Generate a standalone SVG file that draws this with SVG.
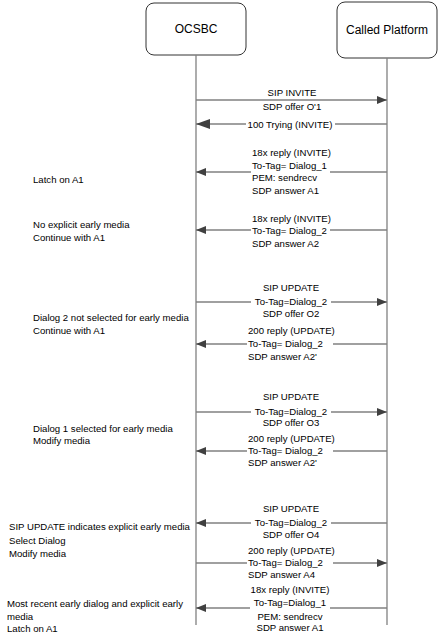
<svg xmlns="http://www.w3.org/2000/svg" width="438" height="642" viewBox="0 0 438 642">
<style>
text{font-family:"Liberation Sans",Arial,sans-serif;font-size:9.6px;fill:#000}
.box{fill:#fff;stroke:#333;stroke-width:1}
.life{stroke:#808080;stroke-width:1.3;fill:none}
.msg{stroke:#808080;stroke-width:1.3;fill:none}
.gap{fill:#fff}
.lbl{font-size:12px}
.c{text-anchor:middle}
</style>
<defs>
<marker id="ah" markerWidth="10" markerHeight="8" refX="10" refY="4" orient="auto" markerUnits="userSpaceOnUse">
<path d="M0,0 L10,4 L0,8 Z" fill="#404040"/>
</marker>
<marker id="ahb" markerWidth="14" markerHeight="10" refX="14" refY="5" orient="auto" markerUnits="userSpaceOnUse">
<path d="M0,0 L14,5 L0,10 Z" fill="#404040"/>
</marker>
</defs>
<rect width="438" height="642" fill="#fff"/>
<g id="ocsbc">
<rect class="box" x="146" y="3" width="100" height="52" rx="8"/>
<text class="lbl c" x="196" y="33">OCSBC</text>
</g>
<g id="called">
<rect class="box" x="337" y="2" width="100" height="56" rx="8"/>
<text class="lbl c" x="387" y="34">Called Platform</text>
</g>
<g id="lifelines">
<line class="life" x1="196" y1="55" x2="196" y2="625"/>
<line class="life" x1="387" y1="58" x2="387" y2="625"/>
</g>
<g id="connectors">
<line class="msg" x1="196" y1="100" x2="387" y2="100" marker-end="url(#ah)"/>
<line class="msg" x1="387" y1="124" x2="196" y2="124" marker-end="url(#ahb)"/>
<line class="msg" x1="387" y1="172" x2="196" y2="172" marker-end="url(#ah)"/>
<line class="msg" x1="387" y1="230" x2="196" y2="230" marker-end="url(#ah)"/>
<line class="msg" x1="196" y1="302" x2="387" y2="302" marker-end="url(#ah)"/>
<line class="msg" x1="387" y1="344" x2="196" y2="344" marker-end="url(#ah)"/>
<line class="msg" x1="196" y1="412" x2="387" y2="412" marker-end="url(#ah)"/>
<line class="msg" x1="387" y1="451" x2="196" y2="451" marker-end="url(#ah)"/>
<line class="msg" x1="387" y1="523" x2="196" y2="523" marker-end="url(#ah)"/>
<line class="msg" x1="196" y1="563" x2="387" y2="563" marker-end="url(#ah)"/>
<line class="msg" x1="387" y1="608" x2="196" y2="608" marker-end="url(#ah)"/>
</g>
<g id="m1">
<text class="c" x="292" y="96">SIP INVITE</text>
<text class="c" x="292" y="110">SDP offer O'1</text>
</g>
<g id="m2">
<rect class="gap" x="246" y="118" width="89" height="12"/>
<text class="c" x="290" y="127.5">100 Trying (INVITE)</text>
</g>
<g id="m3">
<rect class="gap" x="251" y="166" width="79" height="11"/>
<text x="252" y="156">18x reply (INVITE)</text>
<text x="252" y="169">To-Tag= Dialog_1</text>
<text x="252" y="181">PEM: sendrecv</text>
<text x="252" y="194">SDP answer A1</text>
</g>
<g id="m4">
<rect class="gap" x="251" y="225" width="79" height="11"/>
<text x="252" y="222">18x reply (INVITE)</text>
<text x="252" y="234">To-Tag= Dialog_2</text>
<text x="252" y="247">SDP answer A2</text>
</g>
<g id="m5">
<rect class="gap" x="251" y="297" width="80" height="11"/>
<text class="c" x="291" y="291">SIP UPDATE</text>
<text class="c" x="291" y="305">To-Tag=Dialog_2</text>
<text class="c" x="291" y="317">SDP offer O2</text>
</g>
<g id="m6">
<rect class="gap" x="247" y="338" width="86" height="11"/>
<text x="248" y="334">200 reply (UPDATE)</text>
<text x="248" y="347">To-Tag= Dialog_2</text>
<text x="248" y="360">SDP answer A2'</text>
</g>
<g id="m7">
<rect class="gap" x="251" y="407" width="80" height="11"/>
<text class="c" x="291" y="400">SIP UPDATE</text>
<text class="c" x="291" y="415">To-Tag=Dialog_2</text>
<text class="c" x="291" y="426">SDP offer O3</text>
</g>
<g id="m8">
<rect class="gap" x="247" y="445" width="86" height="11"/>
<text x="248" y="442">200 reply (UPDATE)</text>
<text x="248" y="454">To-Tag= Dialog_2</text>
<text x="248" y="466">SDP answer A2'</text>
</g>
<g id="m9">
<rect class="gap" x="251" y="518" width="80" height="11"/>
<text class="c" x="291" y="512">SIP UPDATE</text>
<text class="c" x="291" y="526">To-Tag=Dialog_2</text>
<text class="c" x="291" y="538">SDP offer O4</text>
</g>
<g id="m10">
<rect class="gap" x="247" y="557" width="86" height="11"/>
<text x="248" y="554">200 reply (UPDATE)</text>
<text x="248" y="566">To-Tag= Dialog_2</text>
<text x="248" y="578">SDP answer A4</text>
</g>
<g id="m11">
<rect class="gap" x="250" y="598" width="80" height="22"/>
<text class="c" x="290" y="593">18x reply (INVITE)</text>
<text class="c" x="290" y="606">To-Tag=Dialog_1</text>
<text class="c" x="290" y="620">PEM: sendrecv</text>
<text class="c" x="290" y="631">SDP answer A1</text>
</g>
<g id="notes">
<text x="33" y="183">Latch on A1</text>
<text x="33" y="228">No explicit early media</text>
<text x="33" y="241">Continue with A1</text>
<text x="33" y="321">Dialog 2 not selected for early media</text>
<text x="33" y="334">Continue with A1</text>
<text x="33" y="432">Dialog 1 selected for early media</text>
<text x="33" y="444">Modify media</text>
<text x="9" y="530">SIP UPDATE indicates explicit early media</text>
<text x="9" y="544">Select Dialog</text>
<text x="9" y="557">Modify media</text>
<text x="7" y="607">Most recent early dialog and explicit early</text>
<text x="7" y="620">media</text>
<text x="7" y="632">Latch on A1</text>
</g>
</svg>
